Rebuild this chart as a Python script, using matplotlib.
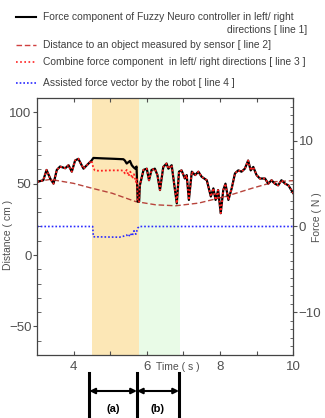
import numpy as np
import matplotlib.pyplot as plt
import matplotlib.transforms as mtransforms
from matplotlib.lines import Line2D
from matplotlib.ticker import MultipleLocator

plt.rcParams['font.family'] = ['Liberation Sans', 'DejaVu Sans']

# force component before the assisted phase (shared by line 1 and line 3)
t_pre = [3.0, 3.17, 3.26, 3.36, 3.45, 3.54, 3.63, 3.77, 3.86, 3.95, 4.04, 4.13,
         4.22, 4.27, 4.36, 4.49]
f_pre = [5.2, 5.4, 6.6, 5.6, 5.0, 6.6, 7.0, 6.8, 7.15, 6.4, 7.7, 7.9,
         7.15, 6.75, 7.15, 7.7]

# phase (a): fuzzy neuro force (line 1) and combined force (line 3) differ
t_mid1 = [4.54, 4.8, 5.1, 5.36, 5.40, 5.45, 5.54, 5.59, 5.63, 5.68, 5.72, 5.75]
f_mid1 = [8.0, 7.95, 7.9, 7.85, 7.7, 7.35, 7.65, 7.15, 6.95, 6.75, 7.0, 2.9]
t_mid3 = [4.54, 4.58, 4.7, 5.0, 5.3, 5.36, 5.40, 5.45, 5.50, 5.55, 5.60, 5.65,
          5.70, 5.73, 5.75]
f_mid3 = [6.8, 6.55, 6.5, 6.55, 6.55, 6.5, 6.2, 6.6, 5.9, 6.4, 5.6, 6.1,
          5.2, 5.6, 2.9]

# after phase (a)
t_post = [5.79, 5.81, 5.91, 6.00, 6.06, 6.13, 6.22, 6.29, 6.36, 6.45, 6.54, 6.59,
          6.68, 6.77, 6.82, 6.88, 6.95, 7.04, 7.09, 7.15, 7.23, 7.32, 7.41, 7.50,
          7.64, 7.75, 7.82, 7.88, 7.95, 8.02, 8.09, 8.15, 8.23, 8.32, 8.41, 8.50,
          8.59, 8.68, 8.77, 8.84, 8.91, 9.00, 9.09, 9.23, 9.32, 9.41, 9.50, 9.59,
          9.68, 9.78, 9.87, 10.0]
f_post = [2.9, 4.8, 6.6, 6.75, 5.4, 6.6, 6.75, 6.0, 4.25, 6.95, 7.35, 6.75,
          7.15, 4.25, 2.7, 6.4, 6.55, 5.6, 6.0, 3.1, 6.4, 6.0, 6.4, 5.8,
          5.4, 3.5, 4.45, 3.1, 4.25, 1.55, 4.25, 5.0, 3.1, 4.45, 6.2, 6.55,
          6.4, 6.75, 7.7, 6.55, 6.95, 6.0, 5.6, 5.6, 5.0, 5.4, 5.0, 4.8,
          5.4, 5.0, 4.8, 3.9]

# distance to the object (line 2, cm)
t_dist = [3.0, 3.36, 4.0, 4.5, 5.05, 5.69, 6.24, 6.79, 7.42, 8.15, 8.88, 9.51, 10.0]
d_dist = [51.4, 53.0, 50.2, 46.8, 43.3, 37.5, 35.2, 34.5, 36.4, 41.0, 46.8, 51.4, 52.1]

# assisted force vector by the robot (line 4, N)
t_assist = [3.0, 4.52, 4.54, 5.25, 5.35, 5.45, 5.50, 5.55, 5.60, 5.65, 5.70, 5.75, 5.79, 10.0]
f_assist = [0.0, 0.0, -1.2, -1.25, -1.15, -1.0, -1.2, -0.8, -1.1, -0.5, -0.9, -0.2, 0.0, 0.0]

phase_a = (4.51, 5.79)
phase_b = (5.79, 6.90)
arrow_edges = [4.43, 5.73, 6.88]
phase_labels = ['(a)', '(b)']

legend_labels = ['Force component of Fuzzy Neuro controller in left/ right',
                 'Distance to an object measured by sensor [ line 2]',
                 'Combine force component  in left/ right directions [ line 3 ]',
                 'Assisted force vector by the robot [ line 4 ]']

t_line1 = t_pre + t_mid1 + t_post
f_line1 = f_pre + f_mid1 + f_post
t_line3 = t_pre + t_mid3 + t_post
f_line3 = f_pre + f_mid3 + f_post

gray = '#505050'
fig = plt.figure(figsize=(3.25, 4.18), dpi=100)
ax = fig.add_axes([0.114, 0.1507, 0.788, 0.6149])
ax2 = ax.twinx()

ax.axvspan(*phase_a, color='#fce7b6', lw=0, zorder=0)
ax.axvspan(*phase_b, color='#e9fbe7', lw=0, zorder=0)

ax.plot(t_dist, d_dist, color='#b8443c', ls=(0, (4, 2)), lw=1.0)
ax2.plot(t_line1, f_line1, color='black', lw=1.6)
ax2.plot(t_line3, f_line3, color='#ff2020', ls=(0, (1, 1.2)), lw=1.3)
ax2.plot(t_assist, f_assist, color='#2a2aff', ls=(0, (1, 1.2)), lw=1.2)

ax.set_xlim(3, 10)
ax.set_ylim(-70, 110)
ax2.set_ylim(-15, 15)

ax.set_xticks([4, 5, 6, 7, 8, 9, 10])
ax.set_xticklabels(['4', '', '6', '', '8', '', '10'])
ax.tick_params(axis='x', direction='in', top=True, length=3, labelsize=9.5,
               labelcolor=gray, color=gray, pad=4)
ax.set_yticks([-50, 0, 50, 100])
ax.yaxis.set_minor_locator(MultipleLocator(10))
ax.tick_params(axis='y', which='major', direction='out', length=3, labelsize=9.5,
               labelcolor=gray, color=gray, pad=1)
ax.tick_params(axis='y', which='minor', direction='in', length=3, color=gray)
ax2.set_yticks([-10, 0, 10])
ax2.yaxis.set_minor_locator(MultipleLocator(1))
ax2.tick_params(axis='y', which='major', direction='out', length=3, labelsize=9.5,
                labelcolor=gray, color=gray, pad=1)
ax2.tick_params(axis='y', which='minor', direction='in', length=2.5, color=gray)
for s in ax2.spines.values():
    s.set_color('#444444')

ax.set_ylabel('Distance ( cm )', fontsize=7.5, color=gray)
ax.yaxis.set_label_coords(-0.094, 0.467)
ax2.set_ylabel('Force ( N )', fontsize=7.5, color=gray)
ax2.yaxis.set_label_coords(1.073, 0.537)
ax.text(6.85, -0.047, 'Time ( s )', transform=ax.get_xaxis_transform(),
        ha='center', va='center', fontsize=7.5, color=gray)

# legend drawn in figure pixels
H = 418.0
W = 325.0
def fy(y):
    return 1 - y / H
styles = [dict(color='black', lw=1.5),
          dict(color='#d04040', ls=(0, (4, 2)), lw=1.0),
          dict(color='#ff2020', ls=(0, (1, 1.5)), lw=1.2),
          dict(color='#2a2aff', ls=(0, (1, 1.2)), lw=1.2)]
rows = [17, 45, 62, 83]
for lab, st, y in zip(legend_labels, styles, rows):
    fig.add_artist(Line2D([16 / W, 36 / W], [fy(y), fy(y)], **st))
    fig.text(43 / W, fy(y), lab, fontsize=7.4, color='#404040', va='center')
fig.text(307 / W, fy(30), 'directions [ line 1]', fontsize=7.4, color='#404040',
         va='center', ha='right')

# phase markers below the axis
blend = mtransforms.blended_transform_factory(ax.transData, fig.transFigure)
for x in arrow_edges:
    ax.plot([x, x], [fy(373), fy(417)], color='black', lw=2.2, transform=blend,
            clip_on=False)
for (x1, x2), lab in zip(zip(arrow_edges[:-1], arrow_edges[1:]), phase_labels):
    ax.annotate('', xy=(x2, fy(391)), xytext=(x1, fy(391)), xycoords=blend,
                textcoords=blend, annotation_clip=False,
                arrowprops=dict(arrowstyle='<|-|>', color='black', lw=1.5,
                                mutation_scale=8, shrinkA=0, shrinkB=0))
    ax.text((x1 + x2) / 2, fy(409), lab, transform=blend, ha='center', va='center',
            fontsize=8, fontweight='bold')

fig.savefig('out.png', dpi=100)
